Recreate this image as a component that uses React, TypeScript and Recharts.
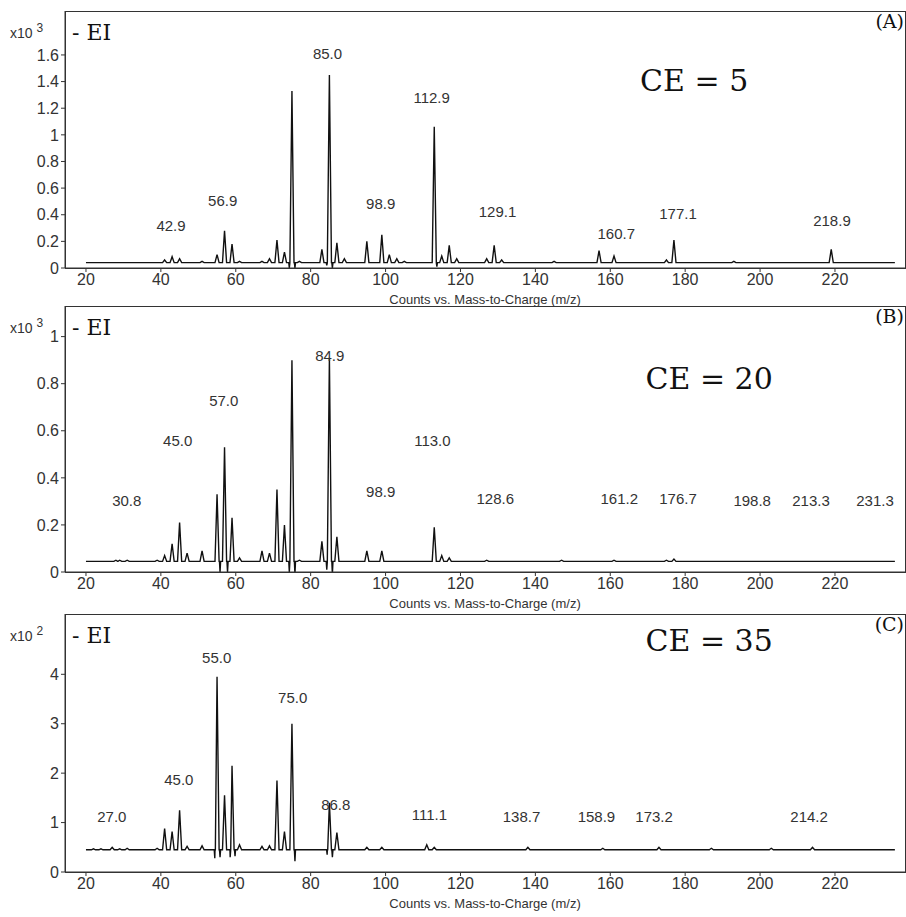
import React from 'react';
import { LineChart, Line, XAxis, YAxis, ReferenceDot } from 'recharts';

// peaks: [m/z, height], dips: [m/z, value] (negative-going ringing after big peaks)
const peaksA = [
  [41, 0.06], [43, 0.085], [45, 0.07], [51, 0.05], [55, 0.1], [57, 0.28], [59, 0.18], [61, 0.05],
  [67, 0.05], [69, 0.07], [71, 0.21], [73, 0.12], [75, 1.33], [77, 0.05], [83, 0.14], [85, 1.45],
  [87, 0.19], [89, 0.07], [95, 0.2], [99, 0.25], [101, 0.1], [103, 0.07], [105, 0.05], [113, 1.06],
  [115, 0.09], [117, 0.17], [119, 0.07], [127, 0.07], [129, 0.17], [131, 0.06], [145, 0.05],
  [157, 0.13], [161, 0.09], [175, 0.06], [177, 0.21], [193, 0.05], [219, 0.14],
];
const dipsA = [[74.3, 0.0], [75.8, 0.0], [84.3, 0.02], [85.8, 0.0], [113.7, 0.01]];
const labelsA = [
  ['42.9', 42.7, 0.317], ['56.9', 56.5, 0.505], ['85.0', 84.5, 1.606], ['98.9', 98.7, 0.483],
  ['112.9', 112.3, 1.282], ['129.1', 129.9, 0.422], ['160.7', 161.6, 0.256], ['177.1', 178.1, 0.407],
  ['218.9', 219.2, 0.354],
];

const peaksB = [
  [28, 0.05], [29, 0.05], [31, 0.05], [39, 0.05], [41, 0.07], [43, 0.12], [45, 0.21], [47, 0.08],
  [51, 0.09], [55, 0.33], [57, 0.53], [59, 0.23], [61, 0.06], [67, 0.09], [69, 0.08], [71, 0.35],
  [73, 0.2], [75, 0.9], [77, 0.05], [83, 0.13], [85, 0.91], [87, 0.15], [95, 0.09], [99, 0.09],
  [113, 0.19], [115, 0.07], [117, 0.06], [127, 0.05], [147, 0.05], [161, 0.05], [175, 0.05], [177, 0.055],
];
const dipsB = [[55.8, 0.0], [57.8, 0.0], [74.3, 0.0], [75.8, -0.01], [84.3, 0.01], [85.8, -0.01]];
const labelsB = [
  ['30.8', 30.9, 0.303], ['45.0', 44.5, 0.558], ['57.0', 56.8, 0.727], ['84.9', 85.1, 0.918],
  ['98.9', 98.7, 0.342], ['113.0', 112.5, 0.558], ['128.6', 129.3, 0.312], ['161.2', 162.4, 0.312],
  ['176.7', 178.1, 0.312], ['198.8', 197.9, 0.303], ['213.3', 213.6, 0.303], ['231.3', 230.7, 0.303],
];

const peaksC = [
  [22, 0.47], [24, 0.47], [27, 0.5], [29, 0.47], [31, 0.48], [39, 0.48], [41, 0.88], [43, 0.82],
  [45, 1.25], [47, 0.52], [51, 0.53], [55, 3.95], [57, 1.55], [59, 2.15], [61, 0.55], [67, 0.52],
  [69, 0.53], [71, 1.85], [73, 0.82], [75, 3.0], [85, 1.4], [87, 0.8], [95, 0.5], [99, 0.5],
  [111, 0.55], [113, 0.5], [138, 0.5], [158, 0.48], [173, 0.5], [187, 0.48], [203, 0.48], [214, 0.5],
];
const dipsC = [[54.4, 0.28], [55.8, 0.3], [58.5, 0.3], [59.8, 0.32], [75.8, 0.22], [84.4, 0.35], [85.8, 0.3]];
const labelsC = [
  ['27.0', 26.9, 1.12], ['45.0', 44.8, 1.87], ['55.0', 54.9, 4.34], ['75.0', 75.2, 3.52],
  ['86.8', 86.7, 1.37], ['111.1', 111.7, 1.15], ['138.7', 136.3, 1.12], ['158.9', 156.3, 1.12],
  ['173.2', 171.7, 1.12], ['214.2', 213.1, 1.12],
];

const xTicks = [20, 40, 60, 80, 100, 120, 140, 160, 180, 200, 220];

const buildSpectrum = (peaks: number[][], dips: number[][], base: number) => {
  const pts: { mz: number; v: number }[] = [{ mz: 20, v: base }, { mz: 236, v: base }];
  peaks.forEach(([x, h]) => {
    pts.push({ mz: x - 0.55, v: base }, { mz: x, v: h }, { mz: x + 0.55, v: base });
  });
  dips.forEach(([x, v]) => {
    pts.push({ mz: x - 0.15, v: base }, { mz: x, v }, { mz: x + 0.15, v: base });
  });
  return pts.sort((a, b) => a.mz - b.mz);
};

const SANS = '"Liberation Sans", Arial, sans-serif';
const SERIF = '"DejaVu Serif", "Liberation Serif", serif';
const AXIS_H = 34;

interface PanelProps {
  top: number;
  frameTop: number;
  frameBottom: number;
  yDomain: [number, number];
  yTicks: number[];
  exp: string;
  tag: string;
  ce: string;
  ceX: number;
  ceY: number;
  data: { mz: number; v: number }[];
  labels: (string | number)[][];
}

const Panel = (p: PanelProps) => {
  const height = p.frameBottom + AXIS_H + 6;
  return (
    <div style={{ position: 'absolute', left: 0, top: p.top, width: 906, height }}>
      <LineChart width={906} height={height} data={p.data}
        margin={{ top: p.frameTop, right: 1, bottom: 6, left: 0 }}>
        <XAxis dataKey="mz" type="number" domain={[14.4, 238.7]} ticks={xTicks} allowDataOverflow
          tick={{ fontSize: 16, fill: '#333', fontFamily: SANS }} tickSize={4} stroke="#333" height={AXIS_H}
          label={{ value: 'Counts vs. Mass-to-Charge (m/z)', position: 'insideBottom', offset: -2, fontSize: 13, fill: '#333', fontFamily: SANS }} />
        <YAxis type="number" domain={p.yDomain} ticks={p.yTicks} allowDataOverflow width={65}
          tick={{ fontSize: 16, fill: '#333', fontFamily: SANS }} tickSize={4} stroke="#333" />
        <Line dataKey="v" stroke="#111" strokeWidth={1.4} dot={false} type="linear" isAnimationActive={false} />
        {p.labels.map(([t, x, y]) => (
          <ReferenceDot key={String(t)} x={x as number} y={y as number} r={0} ifOverflow="visible"
            label={{ value: t, position: 'center', fontSize: 15, fill: '#333', fontFamily: SANS }} />
        ))}
        <ReferenceDot x={p.ceX} y={p.ceY} r={0} ifOverflow="visible"
          label={{ value: p.ce, position: 'center', fontSize: 30, fill: '#111', fontFamily: SERIF }} />
      </LineChart>
      <div style={{ position: 'absolute', left: 65, top: p.frameTop, width: 839, height: p.frameBottom - p.frameTop - 1, border: '1px solid #333', pointerEvents: 'none' }} />
      <div style={{ position: 'absolute', left: 10, top: p.frameTop + 10, fontFamily: SANS, fontSize: 14, color: '#333' }}>
        x10 <sup style={{ fontSize: 12 }}>{p.exp}</sup>
      </div>
      <div style={{ position: 'absolute', left: 72, top: p.frameTop + 9, fontFamily: SERIF, fontSize: 22, color: '#111' }}>- EI</div>
      <div style={{ position: 'absolute', right: 2, top: p.frameTop - 1, fontFamily: SERIF, fontSize: 19, color: '#111' }}>{p.tag}</div>
    </div>
  );
};

const App = () => (
  <div style={{ position: 'absolute', left: 0, top: 0, width: 906, height: 917, background: '#fff', overflow: 'hidden' }}>
    <Panel top={0} frameTop={11} frameBottom={268} yDomain={[0, 1.93]}
      yTicks={[0, 0.2, 0.4, 0.6, 0.8, 1, 1.2, 1.4, 1.6]} exp="3" tag="(A)" ce="CE = 5" ceX={182.4} ceY={1.41}
      data={buildSpectrum(peaksA, dipsA, 0.04)} labels={labelsA} />
    <Panel top={295} frameTop={11} frameBottom={277} yDomain={[0, 1.13]}
      yTicks={[0, 0.2, 0.4, 0.6, 0.8, 1]} exp="3" tag="(B)" ce="CE = 20" ceX={186.4} ceY={0.823}
      data={buildSpectrum(peaksB, dipsB, 0.045)} labels={labelsB} />
    <Panel top={603} frameTop={11} frameBottom={269} yDomain={[0, 5.22]}
      yTicks={[0, 1, 2, 3, 4]} exp="2" tag="(C)" ce="CE = 35" ceX={186.4} ceY={4.69}
      data={buildSpectrum(peaksC, dipsC, 0.45)} labels={labelsC} />
  </div>
);

export default App;
